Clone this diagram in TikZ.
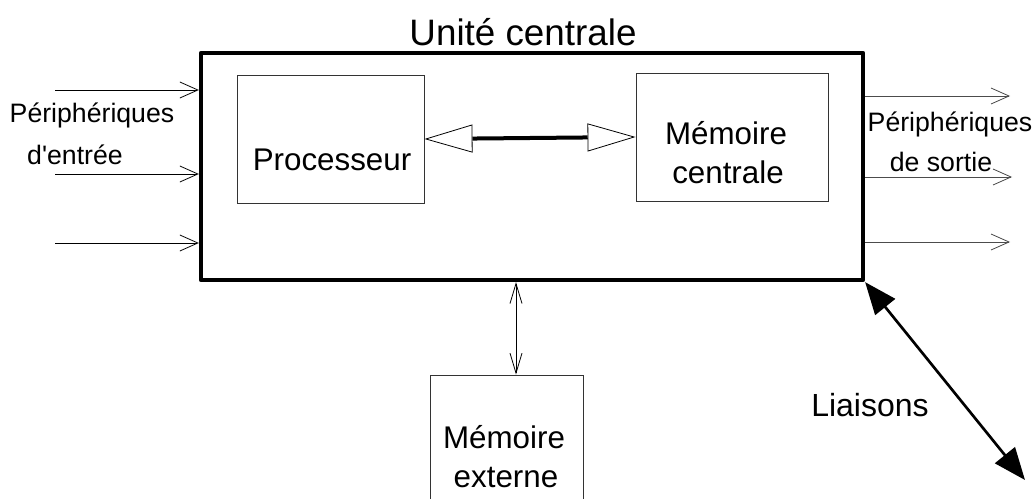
\documentclass[tikz,border=0pt]{standalone}
\usepackage{fontspec}
\setmainfont{Liberation Sans}
\usetikzlibrary{arrows.meta,fit}
\begin{document}
\begin{tikzpicture}[x=0.75pt,y=-0.75pt,
  bigbox/.style={draw, inner sep=0pt, line width=3.2pt, line join=round},
  smallbox/.style={draw, inner sep=0pt, line width=0.7pt, draw=black!80},
  lbl/.style={inner sep=0pt, anchor=center},
  iolink/.style={line width=0.6pt, -{Straight Barb[length=13.5pt,width=12pt,line width=0.6pt]}},
  outlink/.style={iolink, draw=black!70},
  buslink/.style={line width=3pt, {Triangle[open,length=36pt,width=21pt,line width=0.6pt,fill=white]}-{Triangle[open,length=36pt,width=21pt,line width=0.6pt,fill=white]}},
  extlink/.style={line width=0.6pt, {Straight Barb[length=15pt,width=9pt,line width=0.6pt]}-{Straight Barb[length=15pt,width=9pt,line width=0.6pt]}},
  netlink/.style={line width=2pt, {Triangle[length=24pt,width=19pt]}-{Triangle[length=24pt,width=19pt]}}
]
\clip (0,0) rectangle (1035,499);
\fill[white] (0,0) rectangle (1035,499);

% boxes
\node[bigbox, fit={(201,53) (863,280)}] (uc) {};
\node[smallbox, fit={(237,75) (424,203)}] (proc) {};
\node[smallbox, fit={(636,73) (828,201)}] (mem) {};
\node[smallbox, fit={(430,375) (583,530)}] (ext) {};

% labels
\node[lbl, font=\fontsize{27.6}{33}\selectfont] (title) at (523,32) {Unité centrale};
\node[lbl, font=\fontsize{23.5}{29}\selectfont] (tproc) at (332,160) {Processeur};
\node[lbl, font=\fontsize{23.5}{29}\selectfont] (tmem1) at (726,133) {Mémoire};
\node[lbl, font=\fontsize{23.5}{29}\selectfont] (tmem2) at (728,172) {centrale};
\node[lbl, font=\fontsize{23.5}{29}\selectfont] (text1) at (504,437) {Mémoire};
\node[lbl, font=\fontsize{23.5}{29}\selectfont] (text2) at (506,478) {externe};
\node[lbl, font=\fontsize{20}{24}\selectfont] (tin1) at (92,115) {Périphériques};
\node[lbl, font=\fontsize{20}{24}\selectfont] (tin2) at (75,155) {d\textquotesingle entrée};
\node[lbl, font=\fontsize{20}{24}\selectfont] (tout1) at (950,124) {Périphériques};
\node[lbl, font=\fontsize{20}{24}\selectfont] (tout2) at (941,162) {de sortie};
\node[lbl, font=\fontsize{24}{29}\selectfont] (tnet) at (870,405) {Liaisons};

% input arrows
\coordinate (in1) at (55,90);
\coordinate (in2) at (55,174);
\coordinate (in3) at (55,243);
\draw[iolink] (in1) -- (in1 -| uc.west);
\draw[iolink] (in2) -- (in2 -| uc.west);
\draw[iolink] (in3) -- (in3 -| uc.west);

% output arrows
\coordinate (out1) at (1010,96);
\coordinate (out2) at (1012,177);
\coordinate (out3) at (1010,242);
\draw[outlink] (out1 -| uc.east) -- (out1);
\draw[outlink] (out2 -| uc.east) -- (out2);
\draw[outlink] (out3 -| uc.east) -- (out3);

% bus
\draw[buslink] (proc.east) -- (mem.west);

% external memory
\coordinate (extx) at (516,0);
\draw[extlink] (uc.south -| extx) -- (ext.north -| extx);

% network
\coordinate (netend) at (1025,480);
\draw[netlink] (uc.south east) -- (netend);
\end{tikzpicture}
\end{document}
